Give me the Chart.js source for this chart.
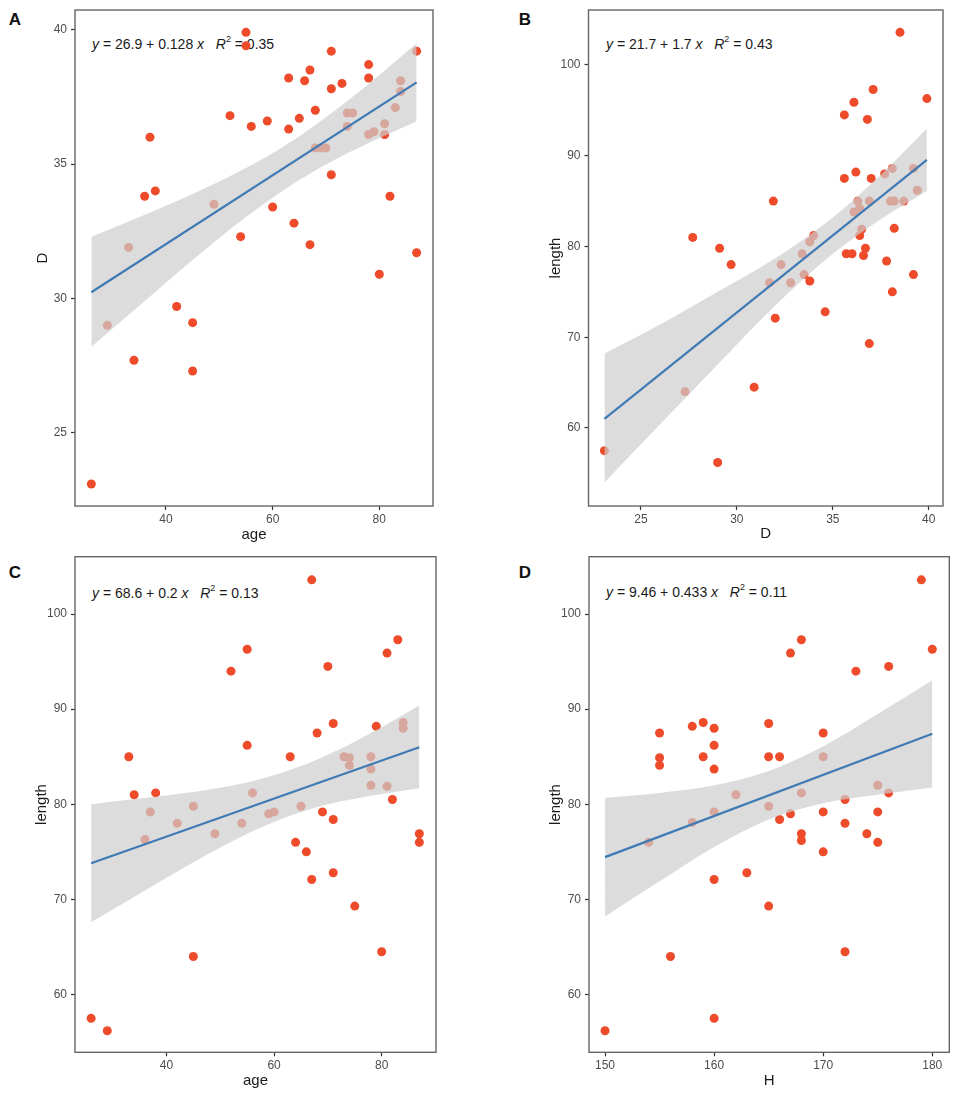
<!DOCTYPE html>
<html>
<head>
<meta charset="utf-8">
<script src="https://cdn.jsdelivr.net/npm/chart.js@4.4.1/dist/chart.umd.min.js"></script>
<style>
    html, body { margin: 0; padding: 0; background: #fff; }
    body { width: 957px; height: 1095px; position: relative; overflow: hidden;
           font-family: "Liberation Sans", Arial, Helvetica, sans-serif; }
    canvas { position: absolute; z-index: 2; }
    .tag { position: absolute; z-index: 1; font-weight: bold; font-size: 17px; color: #111;
           transform: translate(-50%, -50%); line-height: 1; }
    .eq { position: absolute; z-index: 1; font-size: 14px; color: #1a1a1a; white-space: pre;
          transform: translateY(-50%); line-height: 1; }
    .eq sup { font-size: 9px; vertical-align: baseline; position: relative; top: -7px; }
</style>
</head>
<body>
<div class="tag" style="left:15px;top:19px">A</div>
<div class="tag" style="left:525px;top:19px">B</div>
<div class="tag" style="left:15px;top:572px">C</div>
<div class="tag" style="left:525px;top:572px">D</div>
<div class="eq" style="left:92px;top:44px"><i>y</i> = 26.9 + 0.128 <i>x</i>   <i>R</i><sup>2</sup> = 0.35</div>
<div class="eq" style="left:606px;top:44px"><i>y</i> = 21.7 + 1.7 <i>x</i>   <i>R</i><sup>2</sup> = 0.43</div>
<div class="eq" style="left:92px;top:593px"><i>y</i> = 68.6 + 0.2 <i>x</i>   <i>R</i><sup>2</sup> = 0.13</div>
<div class="eq" style="left:606px;top:592px"><i>y</i> = 9.46 + 0.433 <i>x</i>   <i>R</i><sup>2</sup> = 0.11</div>
<script>
const FONT = '"Liberation Sans", Arial, Helvetica, sans-serif';

// --- panel A: D vs age ---
const ageA = [26, 29, 33, 34, 36, 37, 38, 42, 45, 45, 49, 52, 54, 55, 55, 56, 59, 60, 63, 63, 64, 65, 66, 67, 67,
              68, 68, 69, 70, 71, 71, 71, 73, 74, 75, 74, 78, 78, 78, 79, 80, 81, 81, 82, 83, 84, 84, 87, 87];
const diamA = [23.1, 29.0, 31.9, 27.7, 33.8, 36.0, 34.0, 29.7, 29.1, 27.3, 33.5, 36.8, 32.3, 39.9, 39.4, 36.4, 36.6, 33.4,
               38.2, 36.3, 32.8, 36.7, 38.1, 38.5, 32.0, 37.0, 35.6, 35.6, 35.6, 39.2, 37.8, 34.6, 38.0, 36.9, 36.9, 36.4,
               38.7, 38.2, 36.1, 36.2, 30.9, 36.5, 36.1, 33.8, 37.1, 38.1, 37.7, 39.2, 31.7];
const fitAx = [26, 87];
const fitAy = [30.23, 38.04];
const bandAx = [26, 35, 45, 55, 63, 70, 78, 87];
const bandAhi = [32.3, 33.03, 33.89, 34.85, 35.77, 36.74, 37.98, 39.49];
const bandAlo = [28.2, 29.73, 31.43, 33.03, 34.15, 34.98, 35.78, 36.59];
const ticksAx = [40, 60, 80];
const ticksAy = [25, 30, 35, 40];

// --- panel B: length vs D ---
const diamB = [38.5, 37.1, 39.9, 36.1, 35.6, 36.8, 38.1, 37.7, 36.2, 35.6, 37.0, 39.2, 39.4, 38.7, 38.0, 38.2, 36.9,
               36.3, 36.4, 36.1, 31.9, 38.2, 36.5, 36.4, 34.0, 33.8, 27.7, 29.1, 36.7, 33.4, 35.7, 36.0, 36.6, 29.7,
               32.3, 37.8, 33.5, 31.7, 32.8, 33.8, 39.2, 38.1, 34.6, 32.0, 36.9, 30.9, 27.3, 23.1, 29.0];
const lenB = [103.6, 97.3, 96.3, 95.9, 94.5, 94.0, 88.6, 88.0, 88.2, 87.5, 87.5, 88.6, 86.2, 85.0, 85.0, 85.0, 85.0,
              85.0, 84.2, 83.8, 85.0, 82.0, 81.9, 81.2, 81.2, 80.5, 81.0, 79.8, 79.8, 79.2, 79.2, 79.2, 79.0, 78.0,
              78.0, 78.4, 76.9, 76.0, 76.0, 76.2, 76.9, 75.0, 72.8, 72.1, 69.3, 64.5, 64.0, 57.5, 56.2];
const fitBx = [23.1, 39.9];
const fitBy = [61.0, 89.55];
const bandBx = [23.1, 26, 29, 32, 35, 37.5, 39.9];
const bandBhi = [68.2, 71.4, 75.0, 78.7, 83.2, 87.9, 93.0];
const bandBlo = [54.0, 60.4, 67.0, 73.5, 79.2, 83.0, 86.1];
const ticksBx = [25, 30, 35, 40];
const ticksBy = [60, 70, 80, 90, 100];

// --- panel C: length vs age ---
const ageC = [67, 83, 55, 81, 52, 70, 71, 79, 84, 84, 68, 55, 33, 63, 73, 74, 74, 78, 78, 78, 81, 82, 34, 38, 56,
              37, 45, 65, 59, 60, 69, 71, 42, 54, 49, 36, 87, 87, 64, 66, 71, 67, 75, 80, 45, 26, 29];
const lenC = [103.6, 97.3, 96.3, 95.9, 94.0, 94.5, 88.5, 88.2, 88.6, 88.0, 87.5, 86.2, 85.0, 85.0, 85.0, 84.9, 84.1,
              85.0, 83.7, 82.0, 81.9, 80.5, 81.0, 81.2, 81.2, 79.2, 79.8, 79.8, 79.0, 79.2, 79.2, 78.4, 78.0, 78.0,
              76.9, 76.3, 76.9, 76.0, 76.0, 75.0, 72.8, 72.1, 69.3, 64.5, 64.0, 57.5, 56.2];
const fitCx = [26, 87];
const fitCy = [73.8, 86.0];
const bandCx = [26, 35, 45, 55, 63, 70, 78, 87];
const bandChi = [80.0, 80.6, 81.3, 82.3, 83.6, 85.2, 87.5, 90.4];
const bandClo = [67.6, 70.6, 73.9, 76.9, 78.8, 80.0, 80.9, 81.7];
const ticksCx = [40, 60, 80];
const ticksCy = [60, 70, 80, 90, 100];

// --- panel D: length vs H ---
const heightD = [179, 168, 180, 167, 176, 173, 159, 165, 158, 160, 155, 170, 160, 155, 155, 159, 165, 166, 170, 160,
                 175, 162, 168, 176, 172, 165, 160, 167, 170, 175, 166, 158, 172, 168, 174, 154, 168, 175, 170, 163,
                 160, 165, 156, 172, 160, 150];
const lenD = [103.6, 97.3, 96.3, 95.9, 94.5, 94.0, 88.6, 88.5, 88.2, 88.0, 87.5, 87.5, 86.2, 84.9, 84.1, 85.0, 85.0,
              85.0, 85.0, 83.7, 82.0, 81.0, 81.2, 81.2, 80.5, 79.8, 79.2, 79.0, 79.2, 79.2, 78.4, 78.1, 78.0, 76.9,
              76.9, 76.0, 76.2, 76.0, 75.0, 72.8, 72.1, 69.3, 64.0, 64.5, 57.5, 56.2];
const fitDx = [150, 180];
const fitDy = [74.45, 87.42];
const bandDx = [150, 155, 160, 165, 170, 175, 180];
const bandDhi = [80.7, 81.2, 82.0, 83.5, 86.1, 89.5, 93.05];
const bandDlo = [68.2, 71.9, 75.5, 78.4, 80.1, 81.0, 81.76];
const ticksDx = [150, 160, 170, 180];
const ticksDy = [60, 70, 80, 90, 100];

const toPoints = (xs, ys) => xs.map((x, i) => ({ x, y: ys[i] }));

// ggplot-style panel border
const framePlugin = {
    id: 'frame',
    afterDatasetsDraw(chart) {
        const { ctx, chartArea: a } = chart;
        ctx.save();
        ctx.strokeStyle = '#666';
        ctx.lineWidth = 1.4;
        ctx.strokeRect(a.left, a.top, a.right - a.left, a.bottom - a.top);
        ctx.restore();
    }
};

function makePanel(cfg) {
    const { box, plot } = cfg;
    const canvas = document.createElement('canvas');
    canvas.width = box.w;
    canvas.height = box.h;
    canvas.style.left = box.x + 'px';
    canvas.style.top = box.y + 'px';
    canvas.style.width = box.w + 'px';
    canvas.style.height = box.h + 'px';
    document.body.appendChild(canvas);

    const titleSize = 15;
    const titleLine = titleSize * 1.2;
    const yTitlePad = cfg.yTitleAt - box.x - titleLine / 2;
    const xTitlePad = box.y + box.h - cfg.xTitleAt - titleLine / 2;
    const tickFont = { family: FONT, size: 12 };
    const titleFont = { family: FONT, size: titleSize };

    return new Chart(canvas.getContext('2d'), {
        type: 'scatter',
        data: {
            datasets: [
                {
                    type: 'line',
                    data: toPoints(cfg.fitX, cfg.fitY),
                    borderColor: '#3f7ab4',
                    borderWidth: 2.2,
                    pointRadius: 0,
                    fill: false
                },
                {
                    type: 'line',
                    data: toPoints(cfg.bandX, cfg.bandHi),
                    borderColor: 'rgba(0,0,0,0)',
                    borderWidth: 0,
                    pointRadius: 0,
                    cubicInterpolationMode: 'monotone',
                    backgroundColor: 'rgba(205,205,205,0.7)',
                    fill: '+1'
                },
                {
                    type: 'line',
                    data: toPoints(cfg.bandX, cfg.bandLo),
                    borderColor: 'rgba(0,0,0,0)',
                    borderWidth: 0,
                    pointRadius: 0,
                    cubicInterpolationMode: 'monotone',
                    fill: false
                },
                {
                    data: toPoints(cfg.x, cfg.y),
                    pointRadius: 4.5,
                    pointBackgroundColor: '#ee4b2b',
                    pointBorderWidth: 0,
                    clip: false
                }
            ]
        },
        options: {
            responsive: false,
            animation: false,
            devicePixelRatio: 1,
            events: [],
            layout: {
                padding: { top: plot.t - box.y, right: box.x + box.w - plot.r, left: 0, bottom: 0 }
            },
            plugins: { legend: { display: false }, tooltip: { enabled: false } },
            scales: {
                x: {
                    type: 'linear',
                    min: cfg.xRange[0],
                    max: cfg.xRange[1],
                    afterBuildTicks: (s) => { s.ticks = cfg.xTicks.map(v => ({ value: v })); },
                    afterFit: (s) => {
                        s.height = box.y + box.h - plot.b;
                        s.paddingLeft = 0;
                        s.paddingRight = 0;
                    },
                    grid: { drawOnChartArea: false, drawTicks: true, tickLength: 4, tickColor: '#333', tickWidth: 1.2 },
                    border: { display: false },
                    ticks: { color: '#4d4d4d', font: tickFont, padding: 2, maxRotation: 0, autoSkip: false },
                    title: { display: true, text: cfg.xTitle, color: '#1a1a1a', font: titleFont,
                             padding: { top: 0, bottom: xTitlePad } }
                },
                y: {
                    type: 'linear',
                    min: cfg.yRange[0],
                    max: cfg.yRange[1],
                    afterBuildTicks: (s) => { s.ticks = cfg.yTicks.map(v => ({ value: v })); },
                    afterFit: (s) => {
                        s.width = plot.l - box.x;
                        s.paddingTop = 0;
                        s.paddingBottom = 0;
                    },
                    grid: { drawOnChartArea: false, drawTicks: true, tickLength: 4, tickColor: '#333', tickWidth: 1.2 },
                    border: { display: false },
                    ticks: { color: '#4d4d4d', font: tickFont, padding: 4, autoSkip: false },
                    title: { display: true, text: cfg.yTitle, color: '#1a1a1a', font: titleFont,
                             padding: { top: yTitlePad, bottom: 0 } }
                }
            }
        },
        plugins: [framePlugin]
    });
}

makePanel({
    box: { x: 0, y: 0, w: 478, h: 545 }, plot: { l: 75, t: 10, r: 433, b: 506 },
    x: ageA, y: diamA, fitX: fitAx, fitY: fitAy, bandX: bandAx, bandHi: bandAhi, bandLo: bandAlo,
    xRange: [22.94, 90.07], yRange: [22.28, 40.73], xTicks: ticksAx, yTicks: ticksAy,
    xTitle: 'age', yTitle: 'D', xTitleAt: 534.5, yTitleAt: 43
});

makePanel({
    box: { x: 478, y: 0, w: 479, h: 545 }, plot: { l: 588.5, t: 10, r: 943, b: 506 },
    x: diamB, y: lenB, fitX: fitBx, fitY: fitBy, bandX: bandBx, bandHi: bandBhi, bandLo: bandBlo,
    xRange: [22.27, 40.74], yRange: [51.4, 106.06], xTicks: ticksBx, yTicks: ticksBy,
    xTitle: 'D', yTitle: 'length', xTitleAt: 534, yTitleAt: 556
});

makePanel({
    box: { x: 0, y: 546, w: 478, h: 549 }, plot: { l: 75, t: 556.7, r: 436, b: 1052.3 },
    x: ageC, y: lenC, fitX: fitCx, fitY: fitCy, bandX: bandCx, bandHi: bandChi, bandLo: bandClo,
    xRange: [23.0, 90.1], yRange: [53.93, 106.03], xTicks: ticksCx, yTicks: ticksCy,
    xTitle: 'age', yTitle: 'length', xTitleAt: 1081, yTitleAt: 42
});

makePanel({
    box: { x: 478, y: 546, w: 479, h: 549 }, plot: { l: 589, t: 556.7, r: 949.3, b: 1052.3 },
    x: heightD, y: lenD, fitX: fitDx, fitY: fitDy, bandX: bandDx, bandHi: bandDhi, bandLo: bandDlo,
    xRange: [148.53, 181.56], yRange: [53.93, 106.03], xTicks: ticksDx, yTicks: ticksDy,
    xTitle: 'H', yTitle: 'length', xTitleAt: 1081, yTitleAt: 556
});
</script>
</body>
</html>
